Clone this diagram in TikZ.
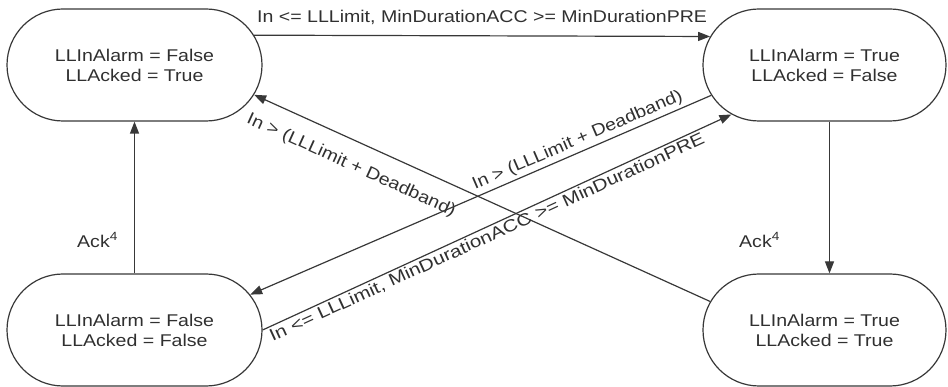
\documentclass[tikz,border=0pt]{standalone}
\usepackage{fontspec}
\setmainfont{Liberation Sans}[FakeStretch=1.15]
\usepackage{tikz}
\usetikzlibrary{shapes.misc,arrows.meta}

\definecolor{linegray}{HTML}{383838}
\definecolor{txtgray}{HTML}{303030}

\tikzset{
	state/.style={rounded rectangle, draw=linegray, line width=1.2pt, minimum height=112pt, align=center, inner sep=0pt, text=txtgray},
	trans/.style={draw=linegray, line width=1.2pt, -{Triangle[length=12pt,width=9pt]}},
	lbl/.style={text=txtgray, inner sep=2pt}
}

\begin{document}
\begin{tikzpicture}[x=1pt,y=-1pt,font=\fontsize{17}{20}\selectfont]
			\useasboundingbox (0,0) rectangle (948,387);
			\node[state,minimum width=255pt] (idle) at (134.5,65) {LLInAlarm = False\\LLAcked = True};
			\node[state,minimum width=243pt] (unack) at (824.5,65) {LLInAlarm = True\\LLAcked = False};
			\node[state,minimum width=255pt] (rtn) at (134.5,330) {LLInAlarm = False\\LLAcked = False};
			\node[state,minimum width=243pt] (acked) at (824.5,330) {LLInAlarm = True\\LLAcked = True};
			\draw[trans] (idle.14) -- node[lbl,above=9pt] {In <= LLLimit, MinDurationACC >= MinDurationPRE} (unack.166);
			\draw[trans] ([xshift=5pt]unack.south) -- node[lbl,pos=0.78,left=47pt] {Ack\textsuperscript{4}} ([xshift=5pt]acked.north);
			\draw[trans] (rtn.north) -- node[lbl,pos=0.22,left=14pt] {Ack\textsuperscript{4}} (idle.south);
			\draw[trans] (acked.166) -- node[lbl,pos=0.765,sloped,below=14pt] {In > (LLLimit + Deadband)} (idle.346);
			\draw[trans] (unack.195) -- node[lbl,pos=0.28,sloped,above=1pt] {In > (LLLimit + Deadband)} (rtn.17);
			\draw[trans] (rtn.east) -- node[lbl,pos=0.47,sloped,below=0pt,xscale=1.06] {In <= LLLimit, MinDurationACC >= MinDurationPRE} (unack.208);
		\end{tikzpicture}
\end{document}
